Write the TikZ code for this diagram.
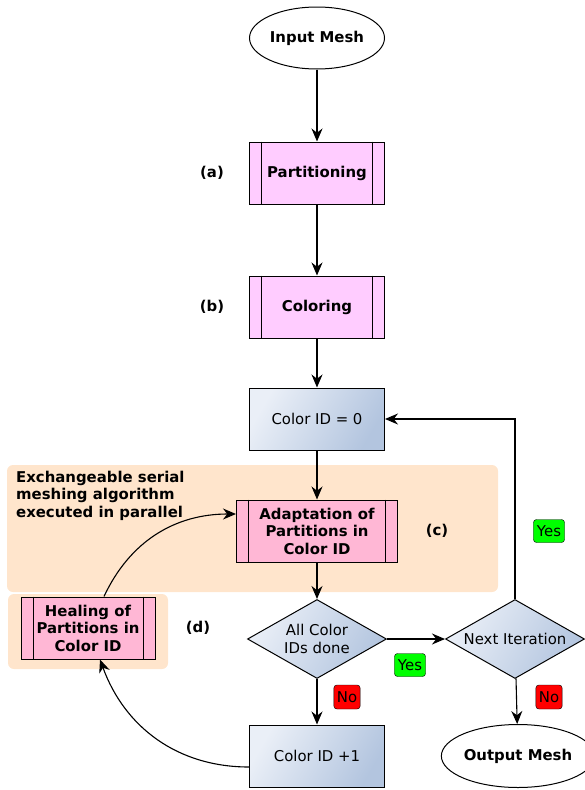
\documentclass[tikz,border=0pt]{standalone}
\usepackage{fontspec}
\setmainfont{DejaVu Sans}
\usetikzlibrary{shapes.geometric,arrows.meta,calc}
\definecolor{procpink}{HTML}{FFCCFF}
\definecolor{adaptpink}{HTML}{FFB7D5}
\definecolor{bgorange}{HTML}{FFE5CC}
\definecolor{gradlight}{HTML}{EAEFF7}
\definecolor{graddark}{HTML}{B3C5DF}
\definecolor{yesgreen}{HTML}{00FF00}
\definecolor{nored}{HTML}{FF0000}
\tikzset{
  flow/.style={-{Stealth[length=13pt,width=11pt]},line width=1.1pt},
  startstop/.style={ellipse,draw,line width=1pt,inner sep=0pt,minimum width=135pt,minimum height=62pt,font=\bfseries},
  proc/.style={rectangle,draw,line width=1pt,fill=procpink,minimum width=135pt,minimum height=62pt,font=\bfseries},
  subproc/.style={rectangle,draw,line width=1pt,fill=adaptpink,minimum height=62pt,align=center,inner xsep=2pt,font=\bfseries},
  idbox/.style={rectangle,draw,line width=1pt,left color=gradlight,right color=graddark,shading angle=60,minimum width=135pt,minimum height=62pt},
  decision/.style={diamond,draw,line width=1pt,left color=gradlight,right color=graddark,shading angle=60,aspect=1.76,inner sep=-5pt,minimum width=139pt,minimum height=79pt,align=center},
  tagyes/.style={draw,rounded corners=3pt,fill=yesgreen,inner xsep=3.5pt,minimum height=23pt},
  tagno/.style={draw,rounded corners=3pt,fill=nored,inner xsep=3pt,minimum height=24pt},
}
\begin{document}
\fontsize{14.9}{17.5}\selectfont
\begin{tikzpicture}[x=1pt,y=-1pt]
\useasboundingbox(0,0)rectangle(584,790);
%background of the serial part
\fill[bgorange,rounded corners=6pt](7,465)rectangle(498,592);
\fill[bgorange,rounded corners=6pt](8,594)rectangle(168,669);
\node[font=\bfseries,align=left,anchor=north west](serialtxt)at(11,466){Exchangeable serial\\meshing algorithm\\executed in parallel};
%main column
\node[startstop](input)at(317,38){Input Mesh};
\node[proc](part)at(317,173){Partitioning};
\node[proc](color)at(317,307){Coloring};
\node[idbox](cid0)at(317,419){Color ID = 0};
\node[subproc,minimum width=161pt](adapt)at(317,531){Adaptation of\\Partitions in\\Color ID};
\node[decision](alldone)at(317,639){All Color\\IDs done};
\node[idbox](cidplus)at(317,756){Color ID +1};
%healing
\node[subproc,minimum width=134pt](heal)at(88,628){Healing of\\Partitions in\\Color ID};
%right column
\node[decision](nextit)at(515,639){Next Iteration};
\node[startstop,minimum width=130pt,minimum height=63pt](output)at(518,756){Output Mesh};
%inner bars of the process boxes
\foreach \n in {part,color,adapt,heal}{
\draw[line width=1pt]([xshift=12.5pt]\n.north west)--([xshift=12.5pt]\n.south west);
\draw[line width=1pt]([xshift=-12.5pt]\n.north east)--([xshift=-12.5pt]\n.south east);
}
%step labels
\node[font=\bfseries](taga)at(212,173){(a)};
\node[font=\bfseries](tagb)at(212,307){(b)};
\node[font=\bfseries](tagc)at(437,531){(c)};
\node[font=\bfseries](tagd)at(198,628){(d)};
%connectors
\draw[flow](input)--(part);
\draw[flow](part)--(color);
\draw[flow](color)--(cid0);
\draw[flow](cid0)--(adapt);
\draw[flow](adapt)--(alldone);
\draw[flow](alldone)--(cidplus);
\draw[flow](alldone)--(nextit);
\draw[flow](nextit)--(output);
\draw[flow](nextit)|-(cid0);
\draw[flow]([yshift=-11pt]cidplus.west)to[out=180,in=-70]([xshift=12pt]heal.south);
\draw[flow]([xshift=16pt]heal.north)to[out=65,in=180]([yshift=17pt]adapt.west);
%yes/no
\node[tagyes](yesa)at(410,665){Yes};
\node[tagno](noa)at(347,697){No};
\node[tagyes](yesb)at(549,531){Yes};
\node[tagno](nob)at(549,697){No};
\end{tikzpicture}
\end{document}
